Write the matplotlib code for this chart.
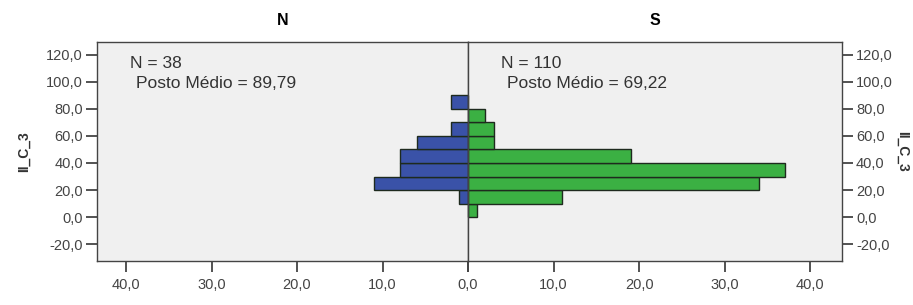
import numpy as np
import matplotlib
matplotlib.use('Agg')
import matplotlib.pyplot as plt
from matplotlib.ticker import FuncFormatter

plt.rcParams['font.family'] = ['Liberation Sans', 'DejaVu Sans']

# bins of II_C_3 (lower edges), width 10
bin_lo = [0, 10, 20, 30, 40, 50, 60, 70, 80]
count_n = [0, 1, 11, 8, 8, 6, 2, 0, 2]
count_s = [1, 11, 34, 37, 19, 3, 3, 2, 0]
groups = ['N', 'S']
n_text = ['N = 38', 'N = 110']
rank_text = ['Posto Médio = 89,79', 'Posto Médio = 69,22']
xticks = [0, 10, 20, 30, 40]
yticks = [-20, 0, 20, 40, 60, 80, 100, 120]

bg = '#f0f0f0'
blue = '#3a52a8'
green = '#3bb043'
edge = '#1e2a1e'

comma = FuncFormatter(lambda v, p: ('%.1f' % v).replace('.', ','))
comma_no0 = FuncFormatter(lambda v, p: '' if v == 0 else ('%.1f' % v).replace('.', ','))

fig = plt.figure(figsize=(9.13, 3.05), dpi=100)
W, H = 913.0, 305.0
bottom = (H - 261) / H
height = 219 / H
axL = fig.add_axes([97 / W, bottom, 371 / W, height])
axR = fig.add_axes([468 / W, bottom, 374 / W, height])

centers = np.array(bin_lo) + 5
axL.barh(centers, count_n, height=10, color=blue, edgecolor=edge, linewidth=1.0)
axR.barh(centers, count_s, height=10, color=green, edgecolor=edge, linewidth=1.0)

for ax in (axL, axR):
    ax.set_facecolor(bg)
    ax.set_ylim(-32.5, 129.5)
    ax.set_yticks(yticks)
    ax.set_xticks(xticks)
    ax.xaxis.set_major_formatter(comma)
    ax.yaxis.set_major_formatter(comma)
    ax.tick_params(labelsize=10.5, colors='#444444', length=8, width=1.3, pad=2)
    ax.tick_params(axis='x', pad=4)
    for s in ax.spines.values():
        s.set_color('#444444')
        s.set_linewidth(1.0)

axL.xaxis.set_major_formatter(comma_no0)
axL.set_xlim(43.4, 0)
axR.set_xlim(0, 43.7)
axR.yaxis.tick_right()
axR.yaxis.set_label_position('right')

axL.set_ylabel('II_C_3', fontsize=10, fontweight='bold', color='#333333', labelpad=11)
axR.set_ylabel('II_C_3', fontsize=10, fontweight='bold', color='#333333',
               rotation=-90, labelpad=12)

for ax, g, t1, t2 in zip((axL, axR), groups, n_text, rank_text):
    ax.set_title(g, fontsize=11.5, fontweight='bold', pad=12)
    ax.text(0.089, 0.935, t1, transform=ax.transAxes, fontsize=12.5,
            va='top', ha='left', color='#333333')
    ax.text(0.104, 0.845, t2, transform=ax.transAxes, fontsize=12.5,
            va='top', ha='left', color='#333333')

fig.savefig('out.png', dpi=100, facecolor='white')
